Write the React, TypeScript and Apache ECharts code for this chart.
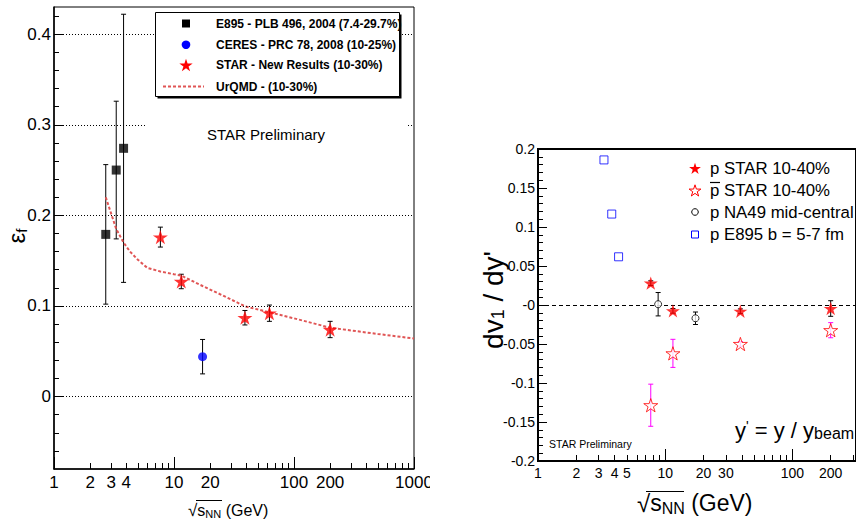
import React, { useEffect, useRef } from 'react';
import * as echarts from 'echarts';

// ---------- Left panel: freeze-out eccentricity vs sqrt(sNN) ----------
const e895X = [2.7, 3.3, 3.8];
const e895Y = [0.179, 0.25, 0.274];
const e895Err = [0.077, 0.076, 0.148];

const ceresX = [17.3];
const ceresY = [0.044];
const ceresErr = [0.019];

const starX = [7.7, 11.5, 39, 62.4, 200];
const starY = [0.176, 0.127, 0.087, 0.092, 0.074];
const starErr = [0.011, 0.008, 0.008, 0.009, 0.009];

const urqmdX = [2.7, 3.3, 3.8, 4.3, 5, 6, 7.7, 10, 11.5, 17.3, 27, 39, 62.4, 100, 200, 500, 1000];
const urqmdY = [0.22, 0.185, 0.17, 0.16, 0.151, 0.142, 0.138, 0.135, 0.1335, 0.122, 0.11, 0.0996, 0.093, 0.0863, 0.076, 0.069, 0.064];

const xMajorTicksL = [1, 10, 100, 1000];
const xMinorTicksL = [2, 3, 4, 5, 6, 7, 8, 9, 20, 30, 40, 50, 60, 70, 80, 90, 200, 300, 400, 500, 600, 700, 800, 900];
const xLabelsL = [1, 2, 3, 4, 10, 20, 100, 200, 1000];
const yMajorL = [0, 0.1, 0.2, 0.3, 0.4];
const yMinorL = [-0.06, -0.04, -0.02, 0.02, 0.04, 0.06, 0.08, 0.12, 0.14, 0.16, 0.18, 0.22, 0.24, 0.26, 0.28, 0.32, 0.34, 0.36, 0.38, 0.42];

const legendL = [
  'E895 - PLB 496, 2004 (7.4-29.7%)',
  'CERES - PRC 78, 2008 (10-25%)',
  'STAR - New Results (10-30%)',
  'UrQMD - (10-30%)',
];

// ---------- Right panel: dv1/dy' of protons / antiprotons ----------
const pX = [7.7, 11.5, 39, 200];
const pY = [0.028, -0.0075, -0.008, -0.0045];
const pErr = [0.003, 0.003, 0.003, 0.01];

const pbarX = [7.7, 11.5, 39, 200];
const pbarY = [-0.1285, -0.062, -0.05, -0.0323];
const pbarErr = [0.027, 0.018, 0.003, 0.0097];

const na49X = [8.8, 17.3];
const na49Y = [0.001, -0.017];
const na49Err = [0.015, 0.008];

const e895RX = [3.3, 3.8, 4.3];
const e895RY = [0.186, 0.1166, 0.0618];

const xMajorTicksR = [1, 10, 100];
const xMinorTicksR = [2, 3, 4, 5, 6, 7, 8, 9, 20, 30, 40, 50, 60, 70, 80, 90, 200, 300];
const xLabelsR = [1, 2, 3, 4, 5, 10, 20, 30, 100, 200];

const legendR = ['p STAR 10-40%', 'p STAR 10-40%', 'p NA49 mid-central', 'p E895 b = 5-7 fm'];

const FONT = "'Liberation Sans', Arial, Helvetica, sans-serif";
const STAR_PATH =
  'path://M50 0L61.23 34.55L97.55 34.55L68.17 55.9L79.39 90.45L50 69.1L20.61 90.45L31.83 55.9L2.45 34.55L38.77 34.55Z';

function starPts(cx: number, cy: number, r: number) {
  const pts: number[][] = [];
  for (let i = 0; i < 10; i++) {
    const a = -Math.PI / 2 + (i * Math.PI) / 5;
    const rr = i % 2 === 0 ? r : r * 0.382;
    pts.push([cx + rr * Math.cos(a), cy + rr * Math.sin(a)]);
  }
  return pts;
}

function pairs(xs: number[], ys: number[]) {
  return xs.map((x, i) => [x, ys[i]]);
}

function errSeries(xs: number[], ys: number[], errs: number[], color: string, xi: number, yi: number, cap: number) {
  return {
    type: 'custom',
    xAxisIndex: xi,
    yAxisIndex: yi,
    silent: true,
    z: 1,
    data: xs.map((x, i) => [x, ys[i] - errs[i], ys[i] + errs[i]]),
    encode: { x: 0, y: [1, 2] },
    renderItem: (params: any, api: any) => {
      const lo = api.coord([api.value(0), api.value(1)]);
      const hi = api.coord([api.value(0), api.value(2)]);
      const style = { stroke: color, lineWidth: 1 };
      return {
        type: 'group',
        children: [
          { type: 'line', shape: { x1: lo[0], y1: lo[1], x2: hi[0], y2: hi[1] }, style },
          { type: 'line', shape: { x1: lo[0] - cap, y1: lo[1], x2: lo[0] + cap, y2: lo[1] }, style },
          { type: 'line', shape: { x1: hi[0] - cap, y1: hi[1], x2: hi[0] + cap, y2: hi[1] }, style },
        ],
      };
    },
  };
}

function logX(grid: number, min: number, max: number, ticks: number[], len: number, labels: number[] | null, fontSize: number, lineW: number, showLine: boolean) {
  return {
    type: 'log',
    logBase: 10,
    gridIndex: grid,
    min,
    max,
    position: 'bottom',
    axisLine: { show: showLine, onZero: false, lineStyle: { color: '#000', width: lineW } },
    axisTick: { show: true, inside: true, length: len, customValues: ticks, lineStyle: { color: '#000', width: 1 } },
    axisLabel: labels
      ? {
          show: true,
          customValues: labels,
          formatter: (v: number) => String(Math.round(v)),
          color: '#000',
          fontSize,
          fontFamily: FONT,
          margin: 5,
        }
      : { show: false },
    splitLine: { show: false },
    minorTick: { show: false },
  };
}

export default function App() {
  const ref = useRef<HTMLDivElement>(null);

  useEffect(() => {
    if (!ref.current) return;
    const chart = echarts.init(ref.current, null, { renderer: 'svg' });

    const txt = (x: number, y: number, text: string, size: number, extra: any = {}) => ({
      type: 'text',
      x,
      y,
      z: 110,
      silent: true,
      style: {
        text,
        font: `${extra.weight || 'normal'} ${size}px ${FONT}`,
        fill: '#000',
        align: extra.align || 'left',
        verticalAlign: 'middle',
      },
    });

    const legRowsL = [23.5, 44.7, 65.2, 86.5];
    const legRowsR = [168, 190, 212, 234];

    const graphic: any[] = [
      // cut of the "1000" label between panels
      { type: 'rect', z: 120, silent: true, shape: { x: 430, y: 470, width: 40, height: 53 }, style: { fill: '#fff' } },
      // left legend box with shadow
      { type: 'rect', z: 100, silent: true, shape: { x: 157.5, y: 14.5, width: 244, height: 84 }, style: { fill: '#000' } },
      { type: 'rect', z: 101, silent: true, shape: { x: 155.5, y: 12.5, width: 244, height: 84 }, style: { fill: '#fff', stroke: '#000', lineWidth: 1 } },
      { type: 'rect', z: 110, silent: true, shape: { x: 182, y: legRowsL[0] - 4, width: 8, height: 8 }, style: { fill: '#000' } },
      { type: 'circle', z: 110, silent: true, shape: { cx: 186, cy: legRowsL[1], r: 4.3 }, style: { fill: '#0000ff' } },
      { type: 'polygon', z: 110, silent: true, shape: { points: starPts(186, legRowsL[2] + 0.5, 7) }, style: { fill: '#ff0000' } },
      { type: 'line', z: 110, silent: true, shape: { x1: 163, y1: legRowsL[3], x2: 204, y2: legRowsL[3] }, style: { stroke: '#e05555', lineWidth: 2, lineDash: [3, 2] } },
      ...legendL.map((t, i) => txt(216, legRowsL[i], t, 12, { weight: 'bold' })),
      // STAR Preliminary (left) with white pad
      { type: 'rect', z: 100, silent: true, shape: { x: 147, y: 120, width: 259, height: 11 }, style: { fill: '#fff' } },
      txt(207, 134, 'STAR Preliminary', 15),
      // left y title
      {
        type: 'text',
        x: 16,
        y: 236,
        rotation: Math.PI / 2,
        z: 110,
        silent: true,
        style: {
          text: '{a|ε}{b|f}',
          align: 'center',
          verticalAlign: 'middle',
          fill: '#000',
          rich: {
            a: { fontSize: 24, fontFamily: FONT, lineHeight: 26, verticalAlign: 'middle' },
            b: { fontSize: 15, fontFamily: FONT, lineHeight: 15, verticalAlign: 'bottom' },
          },
        },
      },
      // left x title
      {
        type: 'text',
        x: 188,
        y: 510,
        z: 110,
        silent: true,
        style: {
          text: '{r|√}{s|s}{b|NN}{n| (GeV)}',
          align: 'left',
          verticalAlign: 'middle',
          fill: '#000',
          rich: {
            r: { fontSize: 17, fontFamily: FONT, lineHeight: 19 },
            s: { fontSize: 16, fontFamily: FONT, lineHeight: 19 },
            b: { fontSize: 11, fontFamily: FONT, lineHeight: 11, verticalAlign: 'bottom' },
            n: { fontSize: 16, fontFamily: FONT, lineHeight: 19 },
          },
        },
      },
      { type: 'line', z: 110, silent: true, shape: { x1: 196, y1: 500.5, x2: 222, y2: 500.5 }, style: { stroke: '#000', lineWidth: 1 } },

      // right legend
      { type: 'polygon', z: 110, silent: true, shape: { points: starPts(695, legRowsR[0] + 1, 6.2) }, style: { fill: '#ff0000' } },
      { type: 'polygon', z: 110, silent: true, shape: { points: starPts(695, legRowsR[1] + 1, 6.2) }, style: { fill: '#fff', stroke: '#ff0000', lineWidth: 1 } },
      { type: 'circle', z: 110, silent: true, shape: { cx: 695, cy: legRowsR[2], r: 3.3 }, style: { fill: '#fff', stroke: '#000', lineWidth: 1 } },
      { type: 'rect', z: 110, silent: true, shape: { x: 691.5, y: legRowsR[3] - 3, width: 7, height: 7 }, style: { fill: '#fff', stroke: '#0000ff', lineWidth: 1 } },
      ...legendR.map((t, i) => txt(710, legRowsR[i], t, 16.8)),
      { type: 'line', z: 110, silent: true, shape: { x1: 710, y1: 182.5, x2: 720, y2: 182.5 }, style: { stroke: '#000', lineWidth: 1.2 } },
      // y' = y / y_beam
      {
        type: 'text',
        x: 735,
        y: 430,
        z: 110,
        silent: true,
        style: {
          text: "{m|y}{p|'}{m| = y / y}{s|beam}",
          align: 'left',
          verticalAlign: 'middle',
          fill: '#000',
          rich: {
            m: { fontSize: 22, fontFamily: FONT, lineHeight: 22 },
            p: { fontSize: 14, fontFamily: FONT, lineHeight: 14, verticalAlign: 'top' },
            s: { fontSize: 16, fontFamily: FONT, lineHeight: 16, verticalAlign: 'bottom' },
          },
        },
      },
      txt(549, 444, 'STAR Preliminary', 10.5),
      // right y title
      {
        type: 'text',
        x: 493,
        y: 300,
        rotation: Math.PI / 2,
        z: 110,
        silent: true,
        style: {
          text: "{a|dv}{b|1}{a| / dy'}",
          align: 'center',
          verticalAlign: 'middle',
          fill: '#000',
          rich: {
            a: { fontSize: 28, fontFamily: FONT, lineHeight: 28 },
            b: { fontSize: 18, fontFamily: FONT, lineHeight: 18, verticalAlign: 'bottom' },
          },
        },
      },
      // right x title
      {
        type: 'text',
        x: 637,
        y: 503,
        z: 110,
        silent: true,
        style: {
          text: '{r|√}{s|s}{b|NN}{n| (GeV)}',
          align: 'left',
          verticalAlign: 'middle',
          fill: '#000',
          rich: {
            r: { fontSize: 24, fontFamily: FONT, lineHeight: 26 },
            s: { fontSize: 23, fontFamily: FONT, lineHeight: 26 },
            b: { fontSize: 16, fontFamily: FONT, lineHeight: 16, verticalAlign: 'bottom' },
            n: { fontSize: 23, fontFamily: FONT, lineHeight: 26 },
          },
        },
      },
      { type: 'line', z: 110, silent: true, shape: { x1: 646, y1: 491.5, x2: 684, y2: 491.5 }, style: { stroke: '#000', lineWidth: 1.2 } },
    ];

    const option: any = {
      animation: false,
      backgroundColor: '#fff',
      textStyle: { fontFamily: FONT },
      grid: [
        { left: 54, top: 7, width: 360, height: 462, show: true, borderColor: '#000', borderWidth: 1, backgroundColor: 'transparent' },
        { left: 538, top: 149, width: 320, height: 312, show: true, borderColor: '#000', borderWidth: 2, backgroundColor: 'transparent' },
      ],
      xAxis: [
        logX(0, 1, 1000, xMajorTicksL, 12, xLabelsL, 17, 1.5, true),
        logX(0, 1, 1000, xMinorTicksL, 6, null, 17, 1, false),
        logX(1, 1, 316.2, xMajorTicksR, 12, xLabelsR, 14, 2, true),
        logX(1, 1, 316.2, xMinorTicksR, 6, null, 14, 1, false),
      ],
      yAxis: [
        {
          type: 'value',
          gridIndex: 0,
          min: -0.08,
          max: 0.43,
          position: 'left',
          axisLine: { show: true, onZero: false, lineStyle: { color: '#000', width: 1.5 } },
          axisTick: { show: true, inside: true, length: 10, customValues: yMajorL, lineStyle: { color: '#000' } },
          axisLabel: {
            customValues: yMajorL,
            formatter: (v: number) => String(Math.round(v * 10) / 10),
            color: '#000',
            fontSize: 17,
            fontFamily: FONT,
            margin: 3,
          },
          splitLine: { show: false },
        },
        {
          type: 'value',
          gridIndex: 0,
          min: -0.08,
          max: 0.43,
          position: 'left',
          axisLine: { show: false, onZero: false },
          axisTick: { show: true, inside: true, length: 5, customValues: yMinorL, lineStyle: { color: '#000' } },
          axisLabel: { show: false },
          splitLine: { show: false },
        },
        {
          type: 'value',
          gridIndex: 1,
          min: -0.2,
          max: 0.2,
          interval: 0.05,
          position: 'left',
          axisLine: { show: true, onZero: false, lineStyle: { color: '#000', width: 2 } },
          axisTick: { show: true, inside: true, length: 9, lineStyle: { color: '#000' } },
          minorTick: { show: true, splitNumber: 5, length: 5, lineStyle: { color: '#000' } },
          axisLabel: {
            formatter: (v: number) => (Math.abs(v) < 1e-9 ? '-0' : String(Math.round(v * 100) / 100)),
            color: '#000',
            fontSize: 14,
            fontFamily: FONT,
            margin: 3,
          },
          splitLine: { show: false },
        },
        {
          type: 'value',
          gridIndex: 1,
          min: -0.2,
          max: 0.2,
          show: false,
        },
      ],
      series: [
        {
          name: 'UrQMD - (10-30%)',
          type: 'line',
          xAxisIndex: 0,
          yAxisIndex: 0,
          data: pairs(urqmdX, urqmdY),
          showSymbol: false,
          symbol: 'none',
          lineStyle: { color: '#e05555', width: 2, type: [3, 2] },
          z: 3,
          silent: true,
          markLine: {
            silent: true,
            symbol: ['none', 'none'],
            label: { show: false },
            lineStyle: { color: '#000', width: 1, type: [1, 2] },
            data: yMajorL.map((v) => ({ yAxis: v })),
          },
        },
        errSeries(e895X, e895Y, e895Err, '#000', 0, 0, 2.5),
        errSeries(ceresX, ceresY, ceresErr, '#000', 0, 0, 2.5),
        errSeries(starX, starY, starErr, '#000', 0, 0, 2.5),
        {
          name: legendL[0],
          type: 'scatter',
          xAxisIndex: 0,
          yAxisIndex: 0,
          data: pairs(e895X, e895Y),
          symbol: 'rect',
          symbolSize: 9,
          itemStyle: { color: '#000' },
          z: 5,
        },
        {
          name: legendL[1],
          type: 'scatter',
          xAxisIndex: 0,
          yAxisIndex: 0,
          data: pairs(ceresX, ceresY),
          symbol: 'circle',
          symbolSize: 9,
          itemStyle: { color: '#0000ff' },
          z: 5,
        },
        {
          name: legendL[2],
          type: 'scatter',
          xAxisIndex: 0,
          yAxisIndex: 0,
          data: pairs(starX, starY),
          symbol: STAR_PATH,
          symbolKeepAspect: true,
          symbolSize: 15,
          itemStyle: { color: '#ff0000' },
          z: 5,
        },
        // right panel
        errSeries(pX, pY, pErr, '#000', 2, 2, 2.5),
        errSeries(pbarX, pbarY, pbarErr, '#ff00ff', 2, 2, 2.5),
        errSeries(na49X, na49Y, na49Err, '#000', 2, 2, 2.5),
        {
          name: legendR[0],
          type: 'scatter',
          xAxisIndex: 2,
          yAxisIndex: 2,
          data: pairs(pX, pY),
          symbol: STAR_PATH,
          symbolKeepAspect: true,
          symbolSize: 14,
          itemStyle: { color: '#ff0000' },
          z: 5,
          markLine: {
            silent: true,
            symbol: ['none', 'none'],
            label: { show: false },
            lineStyle: { color: '#000', width: 1, type: [4, 3] },
            data: [{ yAxis: 0 }],
          },
        },
        {
          name: 'pbar STAR 10-40%',
          type: 'scatter',
          xAxisIndex: 2,
          yAxisIndex: 2,
          data: pairs(pbarX, pbarY),
          symbol: STAR_PATH,
          symbolKeepAspect: true,
          symbolSize: 14,
          itemStyle: { color: '#fff', borderColor: '#ff0000', borderWidth: 1 },
          z: 5,
        },
        {
          name: legendR[2],
          type: 'scatter',
          xAxisIndex: 2,
          yAxisIndex: 2,
          data: pairs(na49X, na49Y),
          symbol: 'circle',
          symbolSize: 7,
          itemStyle: { color: '#fff', borderColor: '#000', borderWidth: 1 },
          z: 6,
        },
        {
          name: legendR[3],
          type: 'scatter',
          xAxisIndex: 2,
          yAxisIndex: 2,
          data: pairs(e895RX, e895RY),
          symbol: 'rect',
          symbolSize: 8,
          itemStyle: { color: '#fff', borderColor: '#0000ff', borderWidth: 1 },
          z: 5,
        },
      ],
      graphic,
    };

    chart.setOption(option);
    return () => chart.dispose();
  }, []);

  return (
    <div
      ref={ref}
      style={{ position: 'absolute', left: 0, top: 0, width: 856, height: 523, background: '#fff' }}
    />
  );
}
